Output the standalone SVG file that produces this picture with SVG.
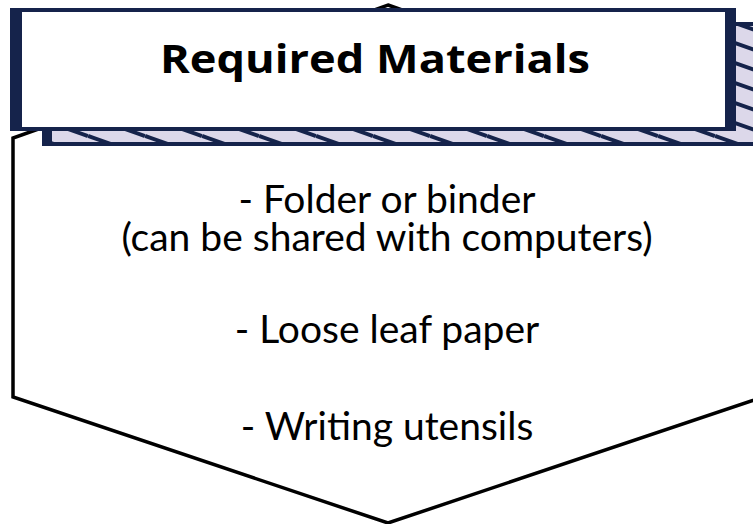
<svg xmlns="http://www.w3.org/2000/svg" width="753" height="524" viewBox="0 0 753 524">
  <style>
    .navy { fill: #15234b; }
    .body { font-family: Lato, "Open Sans", "Liberation Sans", sans-serif; font-size: 39px; fill: #000; text-anchor: middle; }
    .title { font-family: "Open Sans", "Liberation Sans", sans-serif; font-weight: 700; font-size: 40px; fill: #000; text-anchor: middle; }
  </style>
  <defs>
    <pattern id="hatch" patternUnits="userSpaceOnUse" x="31" y="116" width="57" height="20">
      <rect width="57" height="20" fill="#dcd8ea"/>
      <path d="M0,0 L57,20 M0,-20 L57,0 M0,20 L57,40 M-57,-20 L0,0 M57,20 L114,40" stroke="#15234b" stroke-width="4" fill="none"/>
    </pattern>
  </defs>
  <rect width="753" height="524" fill="#ffffff"/>

  <g id="body-shape">
    <polygon points="388,5 763,138 763,397 388,523 13,397 13,138" fill="#ffffff" stroke="#000" stroke-width="3.5" stroke-linejoin="miter"/>
  </g>

  <g id="header">
    <rect class="navy" x="42" y="22" width="730" height="124"/>
    <rect x="52" y="26" width="720" height="116" fill="url(#hatch)"/>
    <rect class="navy" x="10" y="8" width="726" height="123"/>
    <rect x="22" y="12" width="703" height="115" fill="#ffffff"/>
    <text class="title" x="375" y="73" textLength="430" lengthAdjust="spacingAndGlyphs">Required Materials</text>
  </g>

  <g id="items">
    <text class="body" x="387" y="213">- Folder or binder</text>
    <text class="body" x="387" y="251">(can be shared with computers)</text>
    <text class="body" x="387" y="343">- Loose leaf paper</text>
    <text class="body" x="387" y="440">- Writing utensils</text>
  </g>
  <g id="connectors"/>
</svg>
